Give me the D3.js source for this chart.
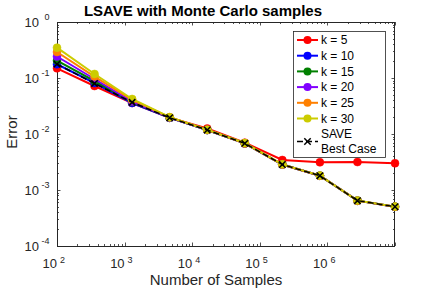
<!DOCTYPE html>
<html><head><meta charset="utf-8">
<script src="https://cdn.jsdelivr.net/npm/d3@7"></script>
<style>
html,body{margin:0;padding:0;background:#fff;}
svg{display:block;font-family:"Liberation Sans",Arial,Helvetica,sans-serif;}
</style></head>
<body><svg id="chart" width="436" height="291"></svg>
<script>
const samples = [100, 359, 1292, 4642, 16681, 59948, 215443, 774264, 2782559, 10000000];
const seriesNames = ["k = 5", "k = 10", "k = 15", "k = 20", "k = 25", "k = 30"];
const seriesColors = ["#ff0000", "#0000ff", "#008000", "#8000ff", "#ff8000", "#cccc00"];
const k5  = [0.149, 0.072, 0.0358, 0.0195, 0.0125, 0.0070, 0.00343, 0.00312, 0.00316, 0.00300];
const k10 = [0.176, 0.0814, 0.0358, 0.0195, 0.0118, 0.0068, 0.00285, 0.00180, 0.000645, 0.000503];
const k15 = [0.205, 0.0884, 0.0373, 0.0196, 0.0118, 0.0068, 0.00285, 0.00180, 0.000645, 0.000503];
const k20 = [0.242, 0.0960, 0.0380, 0.0197, 0.0118, 0.0068, 0.00285, 0.00180, 0.000645, 0.000503];
const k25 = [0.291, 0.106, 0.0407, 0.0199, 0.0119, 0.0068, 0.00285, 0.00180, 0.000645, 0.000503];
const k30 = [0.348, 0.118, 0.0422, 0.0200, 0.0119, 0.0069, 0.00287, 0.00181, 0.000648, 0.000505];
const saveBest = [0.177, 0.080, 0.0368, 0.0195, 0.0118, 0.0068, 0.00285, 0.00180, 0.000645, 0.000503];
const xTickExps = [2, 3, 4, 5, 6];
const yTickExps = [0, -1, -2, -3, -4];
const seriesValues = [k5, k10, k15, k20, k25, k30];

const svg = d3.select("#chart");
const L = 57, R = 395, T = 22, B = 246;
const x = d3.scaleLog().domain([1e2, 1e7]).range([L, R]);
const y = d3.scaleLog().domain([1e-4, 1]).range([B, T]);
const axisColor = "#262626";

// title
svg.append("text").attr("x", 203).attr("y", 15.5).attr("text-anchor", "middle")
  .attr("font-size", 15).attr("font-weight", "bold").attr("fill", "#000")
  .text("LSAVE with Monte Carlo samples");

// ticks (inward, all four sides)
const g = svg.append("g");
const minorX = [], minorY = [];
for (let e = 2; e < 7; e++) for (let m = 2; m <= 9; m++) minorX.push(m * Math.pow(10, e));
for (let e = -4; e < 0; e++) for (let m = 2; m <= 9; m++) minorY.push(m * Math.pow(10, e));
const majorX = xTickExps.map(e => Math.pow(10, e)).concat([1e7]);
const majorY = yTickExps.map(e => Math.pow(10, e));
function tickLines(vals, len, horiz) {
  vals.forEach(v => {
    if (horiz) {
      const px = Math.round(x(v)) + 0.5;
      g.append("line").attr("x1", px).attr("x2", px).attr("y1", B).attr("y2", B - len).attr("stroke", axisColor).attr("stroke-width", 0.8);
      g.append("line").attr("x1", px).attr("x2", px).attr("y1", T).attr("y2", T + len).attr("stroke", axisColor).attr("stroke-width", 0.8);
    } else {
      const py = Math.round(y(v)) + 0.5;
      g.append("line").attr("x1", L).attr("x2", L + len).attr("y1", py).attr("y2", py).attr("stroke", axisColor).attr("stroke-width", 0.8);
      g.append("line").attr("x1", R).attr("x2", R - len).attr("y1", py).attr("y2", py).attr("stroke", axisColor).attr("stroke-width", 0.8);
    }
  });
}
tickLines(minorX, 2, true);
tickLines(majorX, 3.5, true);
tickLines(minorY, 2, false);
tickLines(majorY, 3.5, false);

// box
svg.append("rect").attr("x", L + 0.5).attr("y", T + 0.5).attr("width", R - L - 1).attr("height", B - T)
  .attr("fill", "none").attr("stroke", axisColor).attr("stroke-width", 1);

// tick labels
xTickExps.forEach(e => {
  svg.append("text").attr("x", x(Math.pow(10, e))).attr("y", 268).attr("text-anchor", "end")
    .attr("font-size", 13).attr("fill", axisColor).text("10");
  svg.append("text").attr("x", x(Math.pow(10, e)) + 3).attr("y", 262.5)
    .attr("font-size", 9).attr("fill", axisColor).text(String(e));
});
yTickExps.forEach(e => {
  const py = y(Math.pow(10, e));
  svg.append("text").attr("x", 39).attr("y", py + 4.5).attr("text-anchor", "end")
    .attr("font-size", 13).attr("fill", axisColor).text("10");
  svg.append("text").attr("x", e < 0 ? 41.5 : 44.5).attr("y", py - 2)
    .attr("font-size", 9).attr("fill", axisColor).text(e < 0 ? "-" + Math.abs(e) : String(e));
});

// axis labels
svg.append("text").attr("x", 216).attr("y", 284.5).attr("text-anchor", "middle")
  .attr("font-size", 15).attr("fill", axisColor).text("Number of Samples");
svg.append("text").attr("transform", "translate(17,132) rotate(-90)").attr("text-anchor", "middle")
  .attr("font-size", 15).attr("fill", axisColor).text("Error");

// series
const line = d3.line().x(d => x(d[0])).y(d => y(d[1]));
seriesValues.forEach((vals, i) => {
  const pts = samples.map((s, j) => [s, vals[j]]);
  const sg = svg.append("g");
  sg.append("path").attr("d", line(pts)).attr("fill", "none").attr("stroke", seriesColors[i]).attr("stroke-width", 2);
  sg.selectAll("circle").data(pts).join("circle").attr("cx", d => x(d[0])).attr("cy", d => y(d[1])).attr("r", 4)
    .attr("fill", seriesColors[i]).attr("stroke", seriesColors[i]).attr("stroke-width", 0.5);
});
const sp = samples.map((s, j) => [s, saveBest[j]]);
svg.append("path").attr("d", line(sp)).attr("fill", "none").attr("stroke", "#000")
  .attr("stroke-width", 1.5).attr("stroke-dasharray", "6,3");
function xMark(sel, cx, cy) {
  const s = 3.2;
  sel.append("path").attr("d", `M${cx - s},${cy - s}L${cx + s},${cy + s}M${cx - s},${cy + s}L${cx + s},${cy - s}`)
    .attr("stroke", "#000").attr("stroke-width", 1.5).attr("fill", "none");
}
const xg = svg.append("g");
sp.forEach(d => xMark(xg, x(d[0]), y(d[1])));

// legend
const lg = svg.append("g");
lg.append("rect").attr("x", 293.5).attr("y", 31.5).attr("width", 92).attr("height", 126)
  .attr("fill", "#fff").attr("stroke", axisColor).attr("stroke-width", 0.8);
const rowY = [40, 55.7, 71.4, 87.1, 102.8, 118.5];
seriesNames.forEach((n, i) => {
  lg.append("line").attr("x1", 297).attr("x2", 318).attr("y1", rowY[i]).attr("y2", rowY[i])
    .attr("stroke", seriesColors[i]).attr("stroke-width", 2);
  lg.append("circle").attr("cx", 307.5).attr("cy", rowY[i]).attr("r", 4).attr("fill", seriesColors[i]);
  lg.append("text").attr("x", 321).attr("y", rowY[i] + 4.3).attr("font-size", 12).attr("fill", "#000").text(n);
});
lg.append("line").attr("x1", 297).attr("x2", 318).attr("y1", 141.5).attr("y2", 141.5)
  .attr("stroke", "#000").attr("stroke-width", 1.5).attr("stroke-dasharray", "6,3");
xMark(lg, 307.5, 141.5);
lg.append("text").attr("x", 321).attr("y", 137.5).attr("font-size", 12).attr("fill", "#000").text("SAVE");
lg.append("text").attr("x", 321).attr("y", 153.2).attr("font-size", 12).attr("fill", "#000").text("Best Case");
</script></body></html>
